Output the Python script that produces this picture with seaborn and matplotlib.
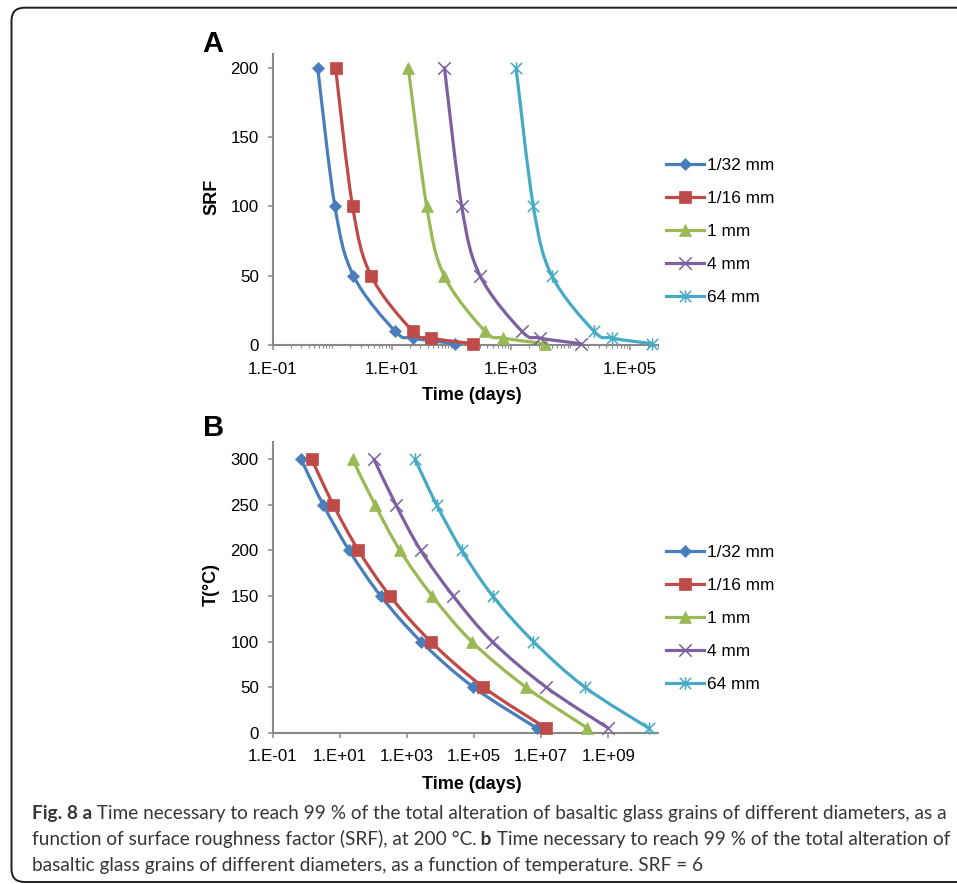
import numpy as np
import pandas as pd
import matplotlib
matplotlib.use("Agg")
import matplotlib.pyplot as plt
import seaborn as sns
from matplotlib.path import Path
from matplotlib.patches import PathPatch, FancyBboxPatch
from matplotlib.lines import Line2D
from matplotlib.transforms import IdentityTransform
from matplotlib.ticker import FixedLocator, FixedFormatter, LogLocator, NullFormatter, NullLocator

# ---------------- data ----------------
grain_sizes = ["1/32 mm", "1/16 mm", "1 mm", "4 mm", "64 mm"]

srf_values = [200, 100, 50, 10, 5, 1]
days_a_1_32 = [0.57, 1.11, 2.27, 11.4, 22.5, 116]
days_a_1_16 = [1.14, 2.2, 4.5, 22.5, 45, 230]
days_a_1 = [19, 38.7, 76, 370, 750, 3770]
days_a_4 = [77, 150, 305, 1530, 3100, 15000]
days_a_64 = [1230, 2400, 4900, 25000, 50000, 235000]

temperatures = [300, 250, 200, 150, 100, 50, 5]
days_b_1_32 = [0.70, 3.2, 19, 166, 2630, 9.5e4, 7.4e6]
days_b_1_16 = [1.45, 6.4, 36, 313, 5100, 1.9e5, 1.4e7]
days_b_1 = [24, 112, 620, 5700, 8.5e4, 3.5e6, 2.4e8]
days_b_4 = [104, 470, 2580, 2.4e4, 3.5e5, 1.4e7, 1.0e9]
days_b_64 = [1740, 7700, 4.3e4, 3.6e5, 5.9e6, 2.0e8, 1.6e10]

xticks_a = [1e-1, 1e1, 1e3, 1e5]
xticklabels_a = ["1.E-01", "1.E+01", "1.E+03", "1.E+05"]
xticks_b = [1e-1, 1e1, 1e3, 1e5, 1e7, 1e9]
xticklabels_b = ["1.E-01", "1.E+01", "1.E+03", "1.E+05", "1.E+07", "1.E+09"]
yticks_a = [0, 50, 100, 150, 200]
yticks_b = [0, 50, 100, 150, 200, 250, 300]

caption_lines = [
    [("Fig. 8 a", "bold"),
     (" Time necessary to reach 99 % of the total alteration of basaltic glass grains of different diameters, as a", "normal")],
    [("function of surface roughness factor (SRF), at 200 °C.", "normal"), (" b", "bold"),
     (" Time necessary to reach 99 % of the total alteration of", "normal")],
    [("basaltic glass grains of different diameters, as a function of temperature. SRF = 6", "normal")],
]

df_a = pd.DataFrame({
    "size": np.repeat(grain_sizes, len(srf_values)),
    "SRF": srf_values * len(grain_sizes),
    "days": days_a_1_32 + days_a_1_16 + days_a_1 + days_a_4 + days_a_64,
})
df_b = pd.DataFrame({
    "size": np.repeat(grain_sizes, len(temperatures)),
    "T": temperatures * len(grain_sizes),
    "days": days_b_1_32 + days_b_1_16 + days_b_1 + days_b_4 + days_b_64,
})

# ---------------- style ----------------
plt.rcParams["font.family"] = ["Liberation Sans", "DejaVu Sans"]
W, H = 957, 884
PT = 100 / 72.0
colors = ["#4A7EBB", "#BE4B48", "#98B954", "#7D60A0", "#46AAC5"]
xmark = Path([(-.5, -.5), (.5, .5), (-.5, .5), (.5, -.5)],
             [Path.MOVETO, Path.LINETO, Path.MOVETO, Path.LINETO])
astmark = Path([(-.5, -.5), (.5, .5), (-.5, .5), (.5, -.5), (0, -.55), (0, .55)],
               [Path.MOVETO, Path.LINETO, Path.MOVETO, Path.LINETO, Path.MOVETO, Path.LINETO])
mk = [
    dict(marker="D", markersize=6.0, markerfacecolor=colors[0], markeredgecolor=colors[0], markeredgewidth=0.5),
    dict(marker="s", markersize=9.0, markerfacecolor=colors[1], markeredgecolor=colors[1], markeredgewidth=0.5),
    dict(marker="^", markersize=9.0, markerfacecolor=colors[2], markeredgecolor=colors[2], markeredgewidth=0.5),
    dict(marker=xmark, markersize=9.0, markerfacecolor="none", markeredgecolor=colors[3], markeredgewidth=1.1),
    dict(marker=astmark, markersize=9.0, markerfacecolor="none", markeredgecolor=colors[4], markeredgewidth=1.1),
]
LINE_W = 2.3
GRAY = "#898989"


def smooth_path(xs, ys):
    P = np.column_stack([np.log10(np.asarray(xs, float)), np.asarray(ys, float)])
    n = len(P)
    verts = [P[0]]
    codes = [Path.MOVETO]
    for i in range(n - 1):
        p0 = P[i - 1] if i > 0 else P[i]
        p1, p2 = P[i], P[i + 1]
        p3 = P[i + 2] if i + 2 < n else P[i + 1]
        verts += [p1 + (p2 - p0) / 6.0, p2 - (p3 - p1) / 6.0, p2]
        codes += [Path.CURVE4] * 3
    verts = np.array(verts)
    verts[:, 0] = 10 ** verts[:, 0]
    return Path(verts, codes)


fig = plt.figure(figsize=(W / 100, H / 100), dpi=100)
ax_left = 272.7
ax_right = 658.3
ax_a = fig.add_axes([ax_left / W, 1 - 345 / H, (ax_right - ax_left) / W, (345 - 54.3) / H])
ax_b = fig.add_axes([ax_left / W, 1 - 732.7 / H, (ax_right - ax_left) / W, (732.7 - 441.7) / H])


def draw_panel(ax, df, ycol):
    ax.set_xscale("log")
    for i, name in enumerate(grain_sizes):
        sub = df[df["size"] == name]
        xs = sub["days"].to_numpy()
        ys = sub[ycol].to_numpy()
        ax.add_patch(PathPatch(smooth_path(xs, ys), fill=False, edgecolor=colors[i], lw=LINE_W,
                               capstyle="round", joinstyle="round", zorder=3 + 2 * i, clip_on=False))
        sns.lineplot(x=xs, y=ys, ax=ax, sort=False, estimator=None, linestyle="", color=colors[i],
                     zorder=4 + 2 * i, clip_on=False, legend=False, **mk[i])


draw_panel(ax_a, df_a, "SRF")
draw_panel(ax_b, df_b, "T")

ax_a.set_xlim(0.1, 10 ** 5.48)
ax_a.set_ylim(0, 209.7)
ax_b.set_xlim(0.1, 10 ** 10.49)
ax_b.set_ylim(0, 319.3)

for ax, xt, xl, yt, xpad in [(ax_a, xticks_a, xticklabels_a, yticks_a, 9.0),
                             (ax_b, xticks_b, xticklabels_b, yticks_b, 8.0)]:
    ax.xaxis.set_major_locator(FixedLocator(xt))
    ax.xaxis.set_major_formatter(FixedFormatter(xl))
    ax.set_yticks(yt)
    ax.set_yticklabels([str(v) for v in yt])
    for s in ["top", "right"]:
        ax.spines[s].set_visible(False)
    for s in ["left", "bottom"]:
        ax.spines[s].set_color(GRAY)
        ax.spines[s].set_linewidth(1.5)
    ax.tick_params(axis="x", which="major", length=5 / PT, width=1.1, color=GRAY,
                   pad=xpad, labelsize=12.2, direction="out")
    ax.tick_params(axis="y", which="major", length=5 / PT, width=1.1, color=GRAY,
                   pad=6.5, labelsize=12.2, direction="out")
    ax.set_facecolor("none")
    ax.set_xlabel("Time (days)", fontsize=13, fontweight="bold")
    ax.xaxis.label.set_va("center")

ax_a.xaxis.set_minor_locator(LogLocator(base=10, subs=np.arange(1, 10), numticks=100))
ax_a.xaxis.set_minor_formatter(NullFormatter())
ax_a.tick_params(axis="x", which="minor", length=3 / PT, width=0.8, color=GRAY, direction="out")
ax_b.xaxis.set_minor_locator(NullLocator())

ax_a.xaxis.set_label_coords((472 - ax_left) / (ax_right - ax_left), -0.174)
ax_b.xaxis.set_label_coords((472 - ax_left) / (ax_right - ax_left), -0.178)

ax_a.set_ylabel("SRF", fontsize=13, fontweight="bold")
ax_b.set_ylabel("T(°C)", fontsize=13, fontweight="bold")
for ax in (ax_a, ax_b):
    ax.yaxis.label.set_va("center")
    ax.yaxis.set_label_coords((211.7 - ax_left) / (ax_right - ax_left), 0.51)

# legends
handles = [Line2D([0], [0], color=colors[i], lw=LINE_W, **mk[i]) for i in range(len(grain_sizes))]
for ax, cy in [(ax_a, (165 + 297.3) / 2), (ax_b, (552.7 + 685) / 2)]:
    ax.legend(handles, grain_sizes, loc="center left", bbox_to_anchor=(666 / W, 1 - cy / H),
              bbox_transform=fig.transFigure, frameon=False, fontsize=12.4,
              handlelength=2.2, handletextpad=0.2, labelspacing=1.04,
              borderpad=0, borderaxespad=0)

# panel letters
fig.text(202 / W, 1 - 51.7 / H, "A", fontsize=21, fontweight="bold", ha="left", va="baseline")
fig.text(203.3 / W, 1 - 436 / H, "B", fontsize=21, fontweight="bold", ha="left", va="baseline")

# rounded frame
frame = FancyBboxPatch((11.5, H - 882), 1100, 882 - 7.7, boxstyle="round,pad=0,rounding_size=13",
                       transform=IdentityTransform(), fill=False, ec="#1e1e1e", lw=1.4)
fig.add_artist(frame)

# caption
renderer = fig.canvas.get_renderer()
CAP_FONT = ["Lato", "DejaVu Sans"]
CAP_COLOR = "#363636"


def seg_width(text, weight, size):
    t = fig.text(0, 0, text, fontsize=size, fontweight=weight, family=CAP_FONT)
    w = t.get_window_extent(renderer).width
    t.remove()
    return w


base = 12.0
w0 = sum(seg_width(t, wt, base) for t, wt in caption_lines[0])
cap_size = base * (942.7 - 31.7) / w0
baselines = [819.3, 845.0, 870.7]
for line, by in zip(caption_lines, baselines):
    x = 31.7
    for text, wt in line:
        fig.text(x / W, 1 - by / H, text, fontsize=cap_size, fontweight=wt, family=CAP_FONT,
                 color=CAP_COLOR, ha="left", va="baseline")
        x += seg_width(text, wt, cap_size)

fig.savefig("out.png", dpi=100)
